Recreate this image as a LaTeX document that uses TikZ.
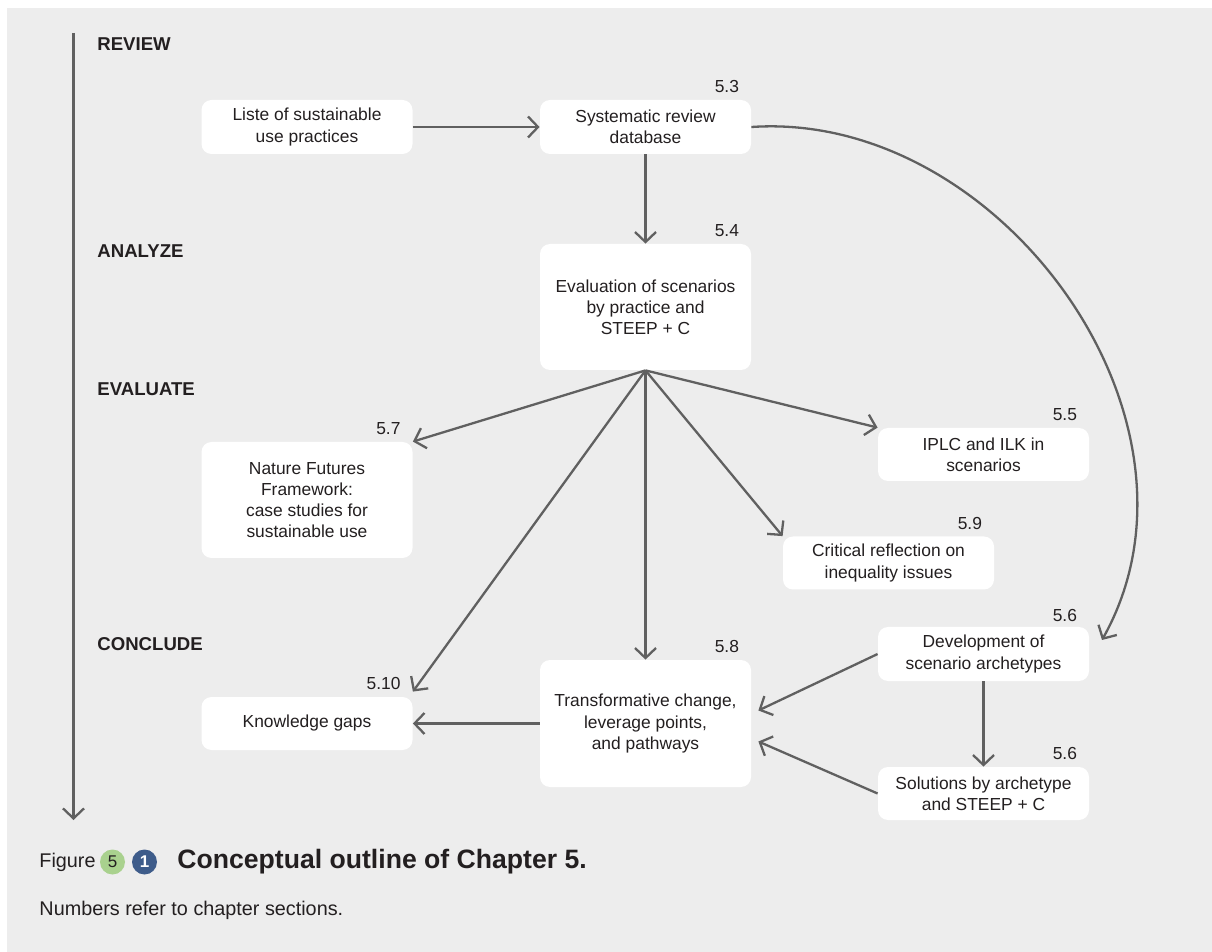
\documentclass[tikz,border=0pt]{standalone}
\usepackage{fontspec}
\setmainfont{Liberation Sans}
\usetikzlibrary{arrows.meta,calc}
\definecolor{bggray}{HTML}{EDEDED}
\definecolor{linegray}{HTML}{606060}
\definecolor{txtdark}{HTML}{231F20}
\definecolor{chgreen}{HTML}{A9D18E}
\definecolor{chblue}{HTML}{3E5C8A}

\begin{document}
\begin{tikzpicture}[x=0.5pt, y=-0.5pt,
    every node/.style={font=\fontsize{8.7}{10.6}\selectfont, text=txtdark},
    box/.style={fill=white, rounded corners=5pt, minimum width=105.5pt, align=center, inner sep=0pt},
    stage/.style={anchor=west, inner sep=0pt, font=\bfseries\fontsize{9.3}{11}\selectfont},
    secnum/.style={anchor=base east, inner sep=0pt},
    arr/.style={draw=linegray, line width=1.15pt, -{Straight Barb[length=5pt,width=10.5pt]}}]
  \useasboundingbox (0,0) rectangle (1212,952);
  \fill[bggray] (7,8) rectangle (1212,952);

  % Stages
  \coordinate (tltop) at (73.5,33);
  \coordinate (tlbot) at (73.5,820);
  \draw[arr] (tltop) -- (tlbot);
  \node[stage] (review) at (97,44) {REVIEW};
  \node[stage] (analyze) at (97,251) {ANALYZE};
  \node[stage] (evaluate) at (97,389) {EVALUATE};
  \node[stage] (conclude) at (97,644) {CONCLUDE};

  % Boxes
  \node[box, minimum height=27pt] (liste) at (307,127) {Liste of sustainable\\use practices};
  \node[box, minimum height=27pt] (sysrev) at (645.5,127) {Systematic review\\database};
  \node[box, minimum height=63pt] (evalsc) at (645.5,307) {Evaluation of scenarios\\by practice and\\STEEP + C};
  \node[box, minimum height=58pt] (nff) at (307,500) {Nature Futures\\Framework:\\case studies for\\sustainable use};
  \node[box, minimum height=26.5pt] (iplc) at (983.5,454.5) {IPLC and ILK in\\scenarios};
  \node[box, minimum height=26.5pt] (critical) at (888.5,563) {Critical reflection on\\inequality issues};
  \node[box, minimum height=27pt] (devarch) at (983.5,654) {Development of\\scenario archetypes};
  \node[box, minimum height=26.5pt] (solarch) at (983.5,793.5) {Solutions by archetype\\and STEEP + C};
  \node[box, minimum height=63.5pt] (transf) at (645.5,723.5) {Transformative change,\\leverage points,\\and pathways};
  \node[box, minimum height=26.5pt] (gaps) at (307,723.5) {Knowledge gaps};

  % Section numbers
  \node[secnum] (n53) at ($(sysrev.north east)+(-12,-7)$) {5.3};
  \node[secnum] (n54) at ($(evalsc.north east)+(-12,-7)$) {5.4};
  \node[secnum] (n57) at ($(nff.north east)+(-12,-7)$) {5.7};
  \node[secnum] (n55) at ($(iplc.north east)+(-12,-7)$) {5.5};
  \node[secnum] (n59) at ($(critical.north east)+(-12,-7)$) {5.9};
  \node[secnum] (n56a) at ($(devarch.north east)+(-12,-5)$) {5.6};
  \node[secnum] (n56b) at ($(solarch.north east)+(-12,-7)$) {5.6};
  \node[secnum] (n58) at ($(transf.north east)+(-12,-7)$) {5.8};
  \node[secnum] (n510) at ($(gaps.north east)+(-12,-7)$) {5.10};

  % Connectors
  \coordinate (devin) at (1102,640);
  \draw[arr] (liste.east) -- (sysrev.west);
  \draw[arr] (sysrev.south) -- (evalsc.north);
  \draw[arr] (sysrev.east) .. controls (1000,110) and (1225,420) .. (devin);
  \draw[arr] (evalsc.south) -- (nff.north east);
  \draw[arr] (evalsc.south) -- (iplc.north west);
  \draw[arr] (evalsc.south) -- (critical.north west);
  \draw[arr] (evalsc.south) -- (transf.north);
  \draw[arr] (evalsc.south) -- ($(gaps.north east)+(0,-5)$);
  \draw[arr] (devarch.west) -- ($(transf.east)+(7,-13)$);
  \draw[arr] (solarch.west) -- ($(transf.east)+(7,18)$);
  \draw[arr] (devarch.south) -- (solarch.north);
  \draw[arr] (transf.west) -- (gaps.east);

  % Caption
  \node[anchor=east, inner sep=0pt, font=\fontsize{9.9}{12}\selectfont] (figword) at (96,862) {Figure};
  \node[circle, fill=chgreen, minimum size=12.5pt, inner sep=0pt, font=\fontsize{8.5}{9}\selectfont] (chap) at (112.5,862) {5};
  \node[circle, fill=chblue, text=white, minimum size=12.5pt, inner sep=0pt, font=\bfseries\fontsize{8.5}{9}\selectfont] (fignum) at (144.5,862) {1};
  \node[anchor=west, inner sep=0pt, font=\bfseries\fontsize{13.3}{16}\selectfont] (title) at (177,862) {Conceptual outline of Chapter 5.};
  \node[anchor=west, inner sep=0pt, font=\fontsize{9.9}{12}\selectfont] (note) at ($(figword.west)+(0,48)$) {Numbers refer to chapter sections.};
\end{tikzpicture}
\end{document}
